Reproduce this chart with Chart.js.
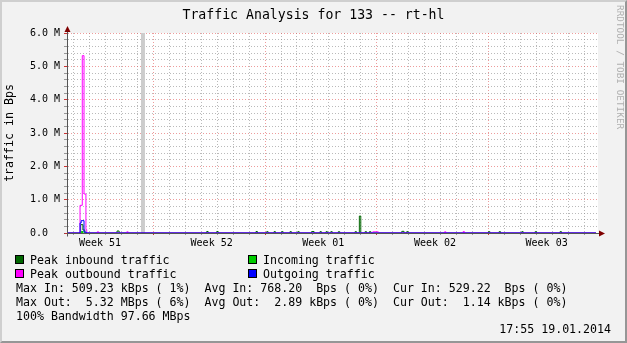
<!DOCTYPE html>
<html>
<head>
<meta charset="utf-8">
<script src="https://cdn.jsdelivr.net/npm/chart.js@4.4.0/dist/chart.umd.min.js"></script>
<style>
  html, body { margin: 0; padding: 0; background: #f2f2f2; }
  #wrap { position: relative; width: 627px; height: 343px; overflow: hidden; font-family: "DejaVu Sans Mono", monospace; }
  #chart { position: absolute; left: 0; top: 0; }
  #frame { position: absolute; left: 0; top: 0; width: 627px; height: 343px; box-sizing: border-box;
           border: 2px solid; border-color: #cfcfcf #969696 #969696 #cfcfcf; pointer-events: none; }
  .txt { position: absolute; white-space: pre; font-size: 11.6px; line-height: 14px; color: #000; }
  .box { position: absolute; width: 9px; height: 9px; box-sizing: border-box; border: 1px solid #000; }
  #title { position: absolute; left: 0; width: 627px; top: 7px; text-align: center; font-size: 13.2px;
           line-height: 16px; white-space: pre; color: #000; }
  #mark { position: absolute; left: 615px; top: 5px; writing-mode: vertical-rl; font-size: 9.4px;
          color: #b0b0b0; white-space: pre; }
</style>
</head>
<body>
<div id="wrap">
  <canvas id="chart" width="627" height="343"></canvas>

  <div id="title">Traffic Analysis for 133 -- rt-hl</div>

  <div class="box" style="left:15px;top:255px;background:#006600"></div>
  <div class="txt" style="left:30px;top:252.5px">Peak inbound traffic</div>
  <div class="box" style="left:248px;top:255px;background:#00cc00"></div>
  <div class="txt" style="left:263px;top:252.5px">Incoming traffic</div>
  <div class="box" style="left:15px;top:269px;background:#ff00ff"></div>
  <div class="txt" style="left:30px;top:266.5px">Peak outbound traffic</div>
  <div class="box" style="left:248px;top:269px;background:#0000ff"></div>
  <div class="txt" style="left:263px;top:266.5px">Outgoing traffic</div>

  <div class="txt" style="left:16px;top:280.5px">Max In: 509.23 kBps ( 1%)  Avg In: 768.20  Bps ( 0%)  Cur In: 529.22  Bps ( 0%)</div>
  <div class="txt" style="left:16px;top:294.5px">Max Out:  5.32 MBps ( 6%)  Avg Out:  2.89 kBps ( 0%)  Cur Out:  1.14 kBps ( 0%)</div>
  <div class="txt" style="left:16px;top:308.5px">100% Bandwidth 97.66 MBps</div>
  <div class="txt" style="right:16px;top:322px">17:55 19.01.2014</div>

  <div id="mark">RRDTOOL / TOBI OETIKER</div>
  <div id="frame"></div>
</div>
<script>
// time axis in days since Mon 16.12.2013 00:00
var viewStart = 1.583;
var viewEnd = 34.87;
var lastSample = 34.746; // 19.01.2014 17:55

var weekLabels = ['Week 51', 'Week 52', 'Week 01', 'Week 02', 'Week 03'];
var weekLabelDays = [3.65, 10.65, 17.65, 24.65, 31.65];

var yMax = 6000000;
var yStep = 200000;

// step series: value holds from each day until the next entry
var peakInDays = [2.44, 2.58, 2.70, 4.72, 4.85, 10.34, 10.43, 10.97, 11.06, 13.43, 13.52,
                  14.10, 14.19, 14.56, 14.65, 15.04, 15.13, 15.56, 15.65, 16.05, 16.14,
                  16.92, 17.07, 17.44, 17.53, 17.82, 17.91, 18.12, 18.21, 18.59, 18.68,
                  19.64, 19.73, 19.91, 20.00, 20.27, 20.36, 20.54, 20.63, 22.57, 22.71,
                  22.88, 22.97, 28.00, 28.09, 28.67, 28.76, 30.09, 30.18, 30.93, 31.02,
                  32.49, 32.58];
var peakInBps = [250000, 90000, 0, 60000, 0, 45000, 0, 45000, 0, 45000, 0,
                 40000, 0, 40000, 0, 40000, 0, 40000, 0, 40000, 0,
                 45000, 0, 40000, 0, 40000, 0, 40000, 0, 40000, 0,
                 40000, 0, 509230, 0, 40000, 0, 40000, 0, 50000, 0,
                 40000, 0, 40000, 0, 40000, 0, 40000, 0, 40000, 0,
                 40000, 0];

var incomingDays = [2.47, 2.62];
var incomingBps = [60000, 0];

var peakOutDays = [2.40, 2.54, 2.65, 2.77, 2.82, 3.48, 3.57, 5.33, 5.42,
                   20.75, 21.10, 25.25, 25.34, 26.41, 26.50];
var peakOutBps = [830000, 5320000, 1170000, 100000, 0, 35000, 0, 35000, 0,
                  35000, 0, 35000, 0, 40000, 0];

var outgoingDays = [2.40, 2.47, 2.65, 2.78];
var outgoingBps = [300000, 370000, 30000, 0];

var unknownDays = [6.22, 6.47];
var unknownBps = [6000000, 0];

var mono = '"DejaVu Sans Mono", monospace';

// value at days[i] holds until days[i+1]
function series(days, vals) {
    var pts = [{x: viewStart, y: 0}];
    for (var i = 0; i < days.length; i++) pts.push({x: days[i], y: vals[i]});
    pts.push({x: lastSample, y: 0});
    return pts;
}

function weekIndex(v) {
    for (var i = 0; i < weekLabelDays.length; i++) {
        if (Math.abs(weekLabelDays[i] - v) < 0.001) return i;
    }
    return -1;
}

var plotBackground = {
    id: 'plotBackground',
    beforeDraw: function (chart) {
        var a = chart.chartArea, ctx = chart.ctx;
        ctx.save();
        ctx.fillStyle = '#ffffff';
        ctx.fillRect(a.left, a.top, a.right - a.left, a.bottom - a.top);
        ctx.restore();
    }
};

var axisArrows = {
    id: 'axisArrows',
    afterDraw: function (chart) {
        var a = chart.chartArea, ctx = chart.ctx;
        var x0 = Math.round(a.left) + 0.5, y0 = Math.round(a.bottom) + 0.5;
        ctx.save();
        ctx.strokeStyle = '#555555';
        ctx.lineWidth = 1;
        ctx.beginPath();
        ctx.moveTo(x0, y0 + 3); ctx.lineTo(x0, a.top - 3);
        ctx.moveTo(x0 - 3, y0); ctx.lineTo(a.left - 3, y0);
        ctx.moveTo(a.right, y0); ctx.lineTo(a.right + 3, y0);
        ctx.stroke();
        ctx.fillStyle = '#7f0000';
        ctx.beginPath();
        ctx.moveTo(x0 - 3, a.top - 1); ctx.lineTo(x0 + 3, a.top - 1); ctx.lineTo(x0, a.top - 7);
        ctx.closePath(); ctx.fill();
        ctx.beginPath();
        ctx.moveTo(a.right + 1, y0 - 3); ctx.lineTo(a.right + 1, y0 + 3); ctx.lineTo(a.right + 7, y0);
        ctx.closePath(); ctx.fill();
        ctx.restore();
    }
};

var minorGrid = 'rgba(140,140,140,0.6)';
var majorGrid = 'rgba(225,90,90,0.6)';

document.addEventListener('DOMContentLoaded', function () {
    var ctx = document.getElementById('chart').getContext('2d');
    var lineBase = {stepped: 'before', pointRadius: 0, borderWidth: 1, tension: 0, fill: false};
    var trafficChart = new Chart(ctx, {
        type: 'line',
        data: {
            datasets: [
                Object.assign({label: 'Outgoing traffic', data: series(outgoingDays, outgoingBps),
                    borderColor: '#0000ff'}, lineBase),
                Object.assign({label: 'Peak outbound traffic', data: series(peakOutDays, peakOutBps),
                    borderColor: '#ff00ff'}, lineBase),
                Object.assign({label: 'Peak inbound traffic', data: series(peakInDays, peakInBps),
                    borderColor: '#006600'}, lineBase),
                {label: 'Incoming traffic', data: series(incomingDays, incomingBps), stepped: 'before',
                    pointRadius: 0, borderWidth: 0, fill: 'origin', backgroundColor: '#00cc00'},
                {label: 'unknown', data: series(unknownDays, unknownBps), stepped: 'before',
                    pointRadius: 0, borderWidth: 0, fill: 'origin', backgroundColor: '#cccccc'}
            ]
        },
        options: {
            responsive: false,
            animation: false,
            events: [],
            layout: {padding: {left: 0, top: 33, right: 29, bottom: 90}},
            plugins: {
                legend: {display: false},
                tooltip: {enabled: false},
                title: {display: false}
            },
            scales: {
                x: {
                    type: 'linear',
                    min: viewStart,
                    max: viewEnd,
                    afterBuildTicks: function (scale) {
                        var t = [];
                        for (var d = 2; d <= 34; d++) t.push({value: d});
                        weekLabelDays.forEach(function (c) { t.push({value: c}); });
                        t.sort(function (a, b) { return a.value - b.value; });
                        scale.ticks = t;
                    },
                    afterFit: function (scale) { scale.height = 20; },
                    ticks: {
                        autoSkip: false,
                        maxRotation: 0,
                        padding: 2,
                        color: '#000',
                        font: {family: mono, size: 10},
                        callback: function (v) {
                            var i = weekIndex(v);
                            return i >= 0 ? weekLabels[i] : '';
                        }
                    },
                    grid: {
                        tickLength: 2,
                        color: function (c) {
                            var v = c.tick.value;
                            if (weekIndex(v) >= 0) return 'rgba(0,0,0,0)';
                            return v % 7 === 0 ? majorGrid : minorGrid;
                        },
                        tickColor: function (c) {
                            var v = c.tick.value;
                            if (weekIndex(v) >= 0) return 'rgba(0,0,0,0)';
                            return v % 7 === 0 ? '#cc3333' : '#999999';
                        }
                    },
                    border: {display: true, color: '#555555', dash: [1, 2]}
                },
                y: {
                    min: 0,
                    max: yMax,
                    afterBuildTicks: function (scale) {
                        var t = [];
                        for (var v = 0; v <= yMax; v += yStep) t.push({value: v});
                        scale.ticks = t;
                    },
                    afterFit: function (scale) { scale.width = 67; },
                    ticks: {
                        autoSkip: false,
                        padding: 4,
                        color: '#000',
                        font: {family: mono, size: 10},
                        callback: function (v) {
                            if (v % 1000000 !== 0) return '';
                            return v === 0 ? '0.0  ' : (v / 1000000).toFixed(1) + ' M';
                        }
                    },
                    title: {
                        display: true,
                        text: 'traffic in Bps',
                        color: '#000',
                        font: {family: mono, size: 11.6, lineHeight: 1.2},
                        padding: {top: 3.5, bottom: 0}
                    },
                    grid: {
                        tickLength: 3,
                        color: function (c) { return c.tick.value % 1000000 === 0 ? majorGrid : minorGrid; },
                        tickColor: function (c) { return c.tick.value % 1000000 === 0 ? '#cc3333' : '#999999'; }
                    },
                    border: {display: true, color: '#555555', dash: [1, 2]}
                }
            }
        },
        plugins: [plotBackground, axisArrows]
    });
});
</script>
</body>
</html>
